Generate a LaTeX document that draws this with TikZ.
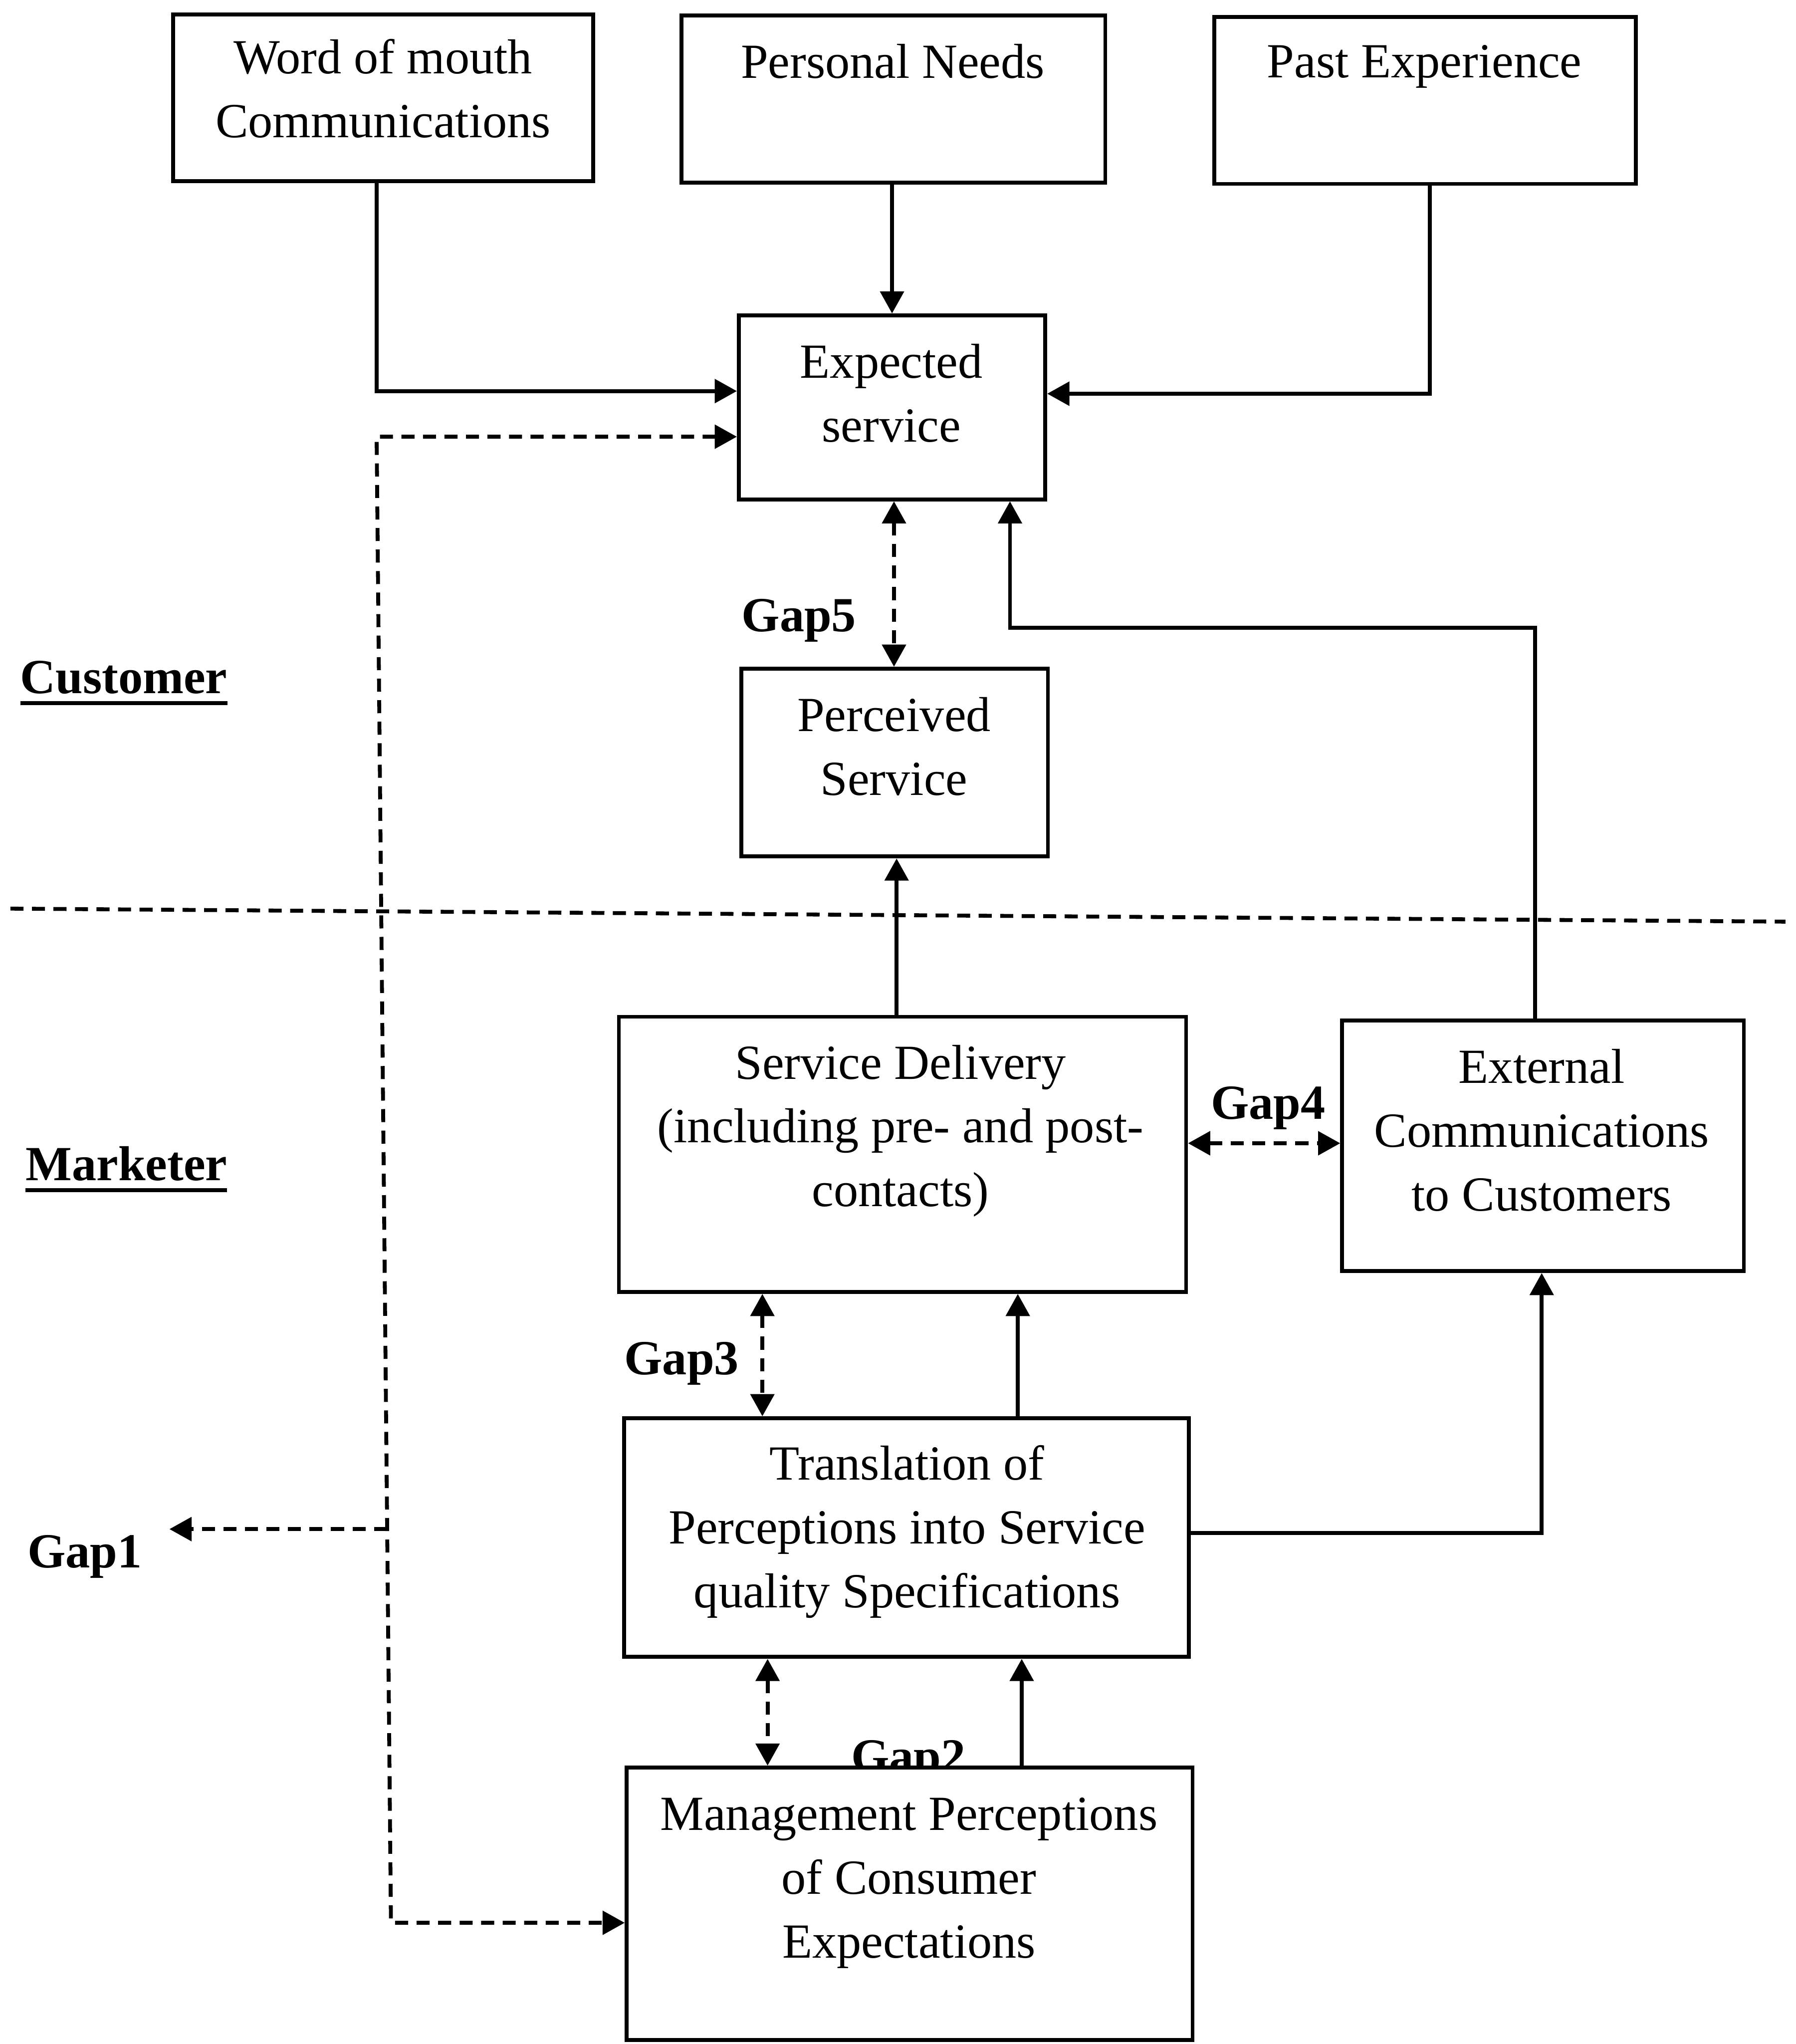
\documentclass[tikz,border=0pt]{standalone}
\usepackage{fontspec}
\setmainfont{Liberation Serif}
\usetikzlibrary{arrows.meta,calc}
% heavy underline for the side headings
\newcommand{\heavyul}[1]{\vtop{\hbox{#1}\kern1.6pt\hrule height 0.9pt}}

\begin{document}
\begin{tikzpicture}[x=0.01cm,y=-0.01cm,
  box/.style={draw,fill=white,line width=0.85pt,inner sep=0pt},
  txt/.style={align=center,inner sep=0pt,font=\fontsize{10.7}{13.9}\selectfont},
  gap/.style={inner sep=0pt,font=\fontsize{10.7}{13.9}\selectfont\bfseries},
  side/.style={inner sep=0pt,font=\fontsize{10.7}{13.9}\selectfont\bfseries},
  tip/.tip={Triangle[length=0.17cm,width=0.18cm]},
  line/.style={line width=0.85pt},
  arr/.style={line,-tip},
  dsh/.style={line,dash pattern=on 0.1cm off 0.065cm},
  darr/.style={dsh,tip-tip}]

\useasboundingbox (0,0) rectangle (1378,1568);

% --- boxes and their texts ---
\node[box,minimum width=3.22cm,minimum height=1.28cm] (wom) at (294,75) {};
\node[txt] (womT) at (294,68) {Word of mouth\\Communications};
\node[box,minimum width=3.25cm,minimum height=1.28cm] (pn) at (685.5,76) {};
\node[txt] (pnT) at (685,47) {Personal Needs};
\node[box,minimum width=3.23cm,minimum height=1.28cm] (pe) at (1093.5,77) {};
\node[txt] (peT) at (1093,51) {Past Experience};

\node[box,minimum width=2.35cm,minimum height=1.41cm] (exp) at (684.5,312.5) {};
\node[txt] (expT) at (684,301.5) {Expected\\service};
\node[box,minimum width=2.35cm,minimum height=1.44cm] (perc) at (686.5,585) {};
\node[txt] (percT) at (686,572.5) {Perceived\\Service};

\node[box,minimum width=4.35cm,minimum height=2.11cm] (sd) at (692.5,885.5) {};
\node[txt] (sdT) at (691,867.5) {Service Delivery\\(including pre- and post-\\contacts)};
\node[box,minimum width=3.08cm,minimum height=1.92cm] (ext) at (1184,879) {};
\node[txt] (extT) at (1183,867) {External\\Communications\\to Customers};

\node[box,minimum width=4.33cm,minimum height=1.83cm] (tr) at (695.5,1179.5) {};
\node[txt] (trT) at (696,1175) {Translation of\\Perceptions into Service\\quality Specifications};

% the Gap2 label sits behind the top edge of the bottom box
\node[gap,anchor=base] (g2) at (697,1360) {Gap2};
\node[box,minimum width=4.34cm,minimum height=2.09cm] (mg) at (698,1460.5) {};
\node[txt] (mgT) at (697.5,1444.5) {Management Perceptions\\of Consumer\\Expectations};

% --- side labels ---
\node[side] (cust) at (95,524) {\heavyul{Customer}};
\node[side] (mkt) at (97,897) {\heavyul{Marketer}};
\node[gap] (g5) at (613,476) {Gap5};
\node[gap] (g4) at (973,850) {Gap4};
\node[gap] (g3) at (523,1046) {Gap3};
\node[gap] (g1) at (65,1194) {Gap1};

% --- customer / marketer divider ---
\draw[dsh] (8,697) -- (1370,707);

% --- inputs to the expected service ---
\draw[arr] ($(wom.south)+(-5,0)$) |- ($(exp.west)+(0,-12.5)$);
\draw[arr] (pn.south -| exp.north) -- (exp.north);
\draw[arr] ($(pe.south)+(3.5,0)$) |- ($(exp.east)+(0,-10.5)$);

% --- Gap 1 ---
\coordinate (gTop) at (289,335);
\coordinate (gBot) at (300,1475);
\coordinate (gMid) at (297,1173);
\coordinate (gEnd) at (130,1173);
\draw[darr] ($(exp.west)+(0,22.5)$) -- (gTop) -- (gBot) -- ($(mg.west)+(0,14.5)$);
\draw[dsh,-tip] (gMid) -- (gEnd);

% --- Gap 5 ---
\draw[darr] ($(exp.south)+(1.5,0)$) -- ($(perc.north)+(-0.5,0)$);

% --- marketer flows ---
\draw[arr] ($(sd.north)+(-4.5,0)$) -- ($(perc.south)+(1.5,0)$);
\draw[arr] ($(ext.north)+(-6,0)$) |- ($(exp.south)+(90.5,97)$) -- ($(exp.south)+(90.5,0)$);
\draw[darr] ($(sd.east)+(0,-8.5)$) -- ($(ext.west)+(0,-2)$);
\draw[darr] ($(sd.south)+(-107.5,0)$) -- ($(tr.north)+(-110.5,0)$);
\draw[arr] ($(tr.north)+(85.5,0)$) -- ($(sd.south)+(88.5,0)$);
\draw[arr] ($(tr.east)+(0,-3.5)$) -| ($(ext.south)+(-1,0)$);
\draw[darr] ($(tr.south)+(-106.5,0)$) -- ($(mg.north)+(-109,0)$);
\draw[arr] ($(mg.north)+(86,0)$) -- ($(tr.south)+(88.5,0)$);

\end{tikzpicture}
\end{document}
